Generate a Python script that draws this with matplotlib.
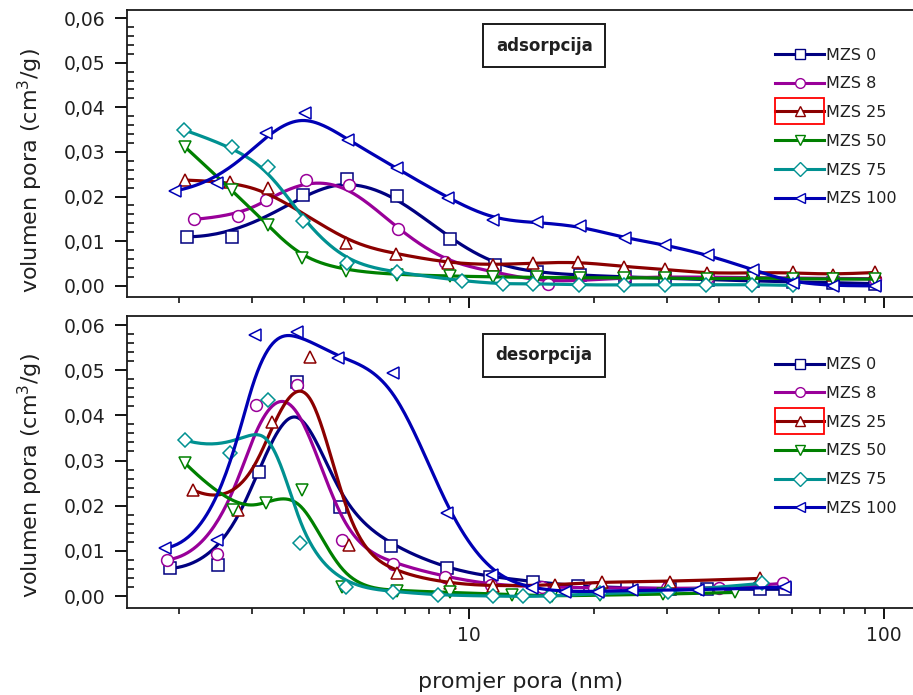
import numpy as np
import matplotlib
matplotlib.use("Agg")
import matplotlib.pyplot as plt
from matplotlib.lines import Line2D
from matplotlib.patches import Rectangle
from matplotlib.ticker import FixedLocator, FuncFormatter, NullFormatter

plt.rcParams['font.family'] = ['DejaVu Sans']

# nazivi uzoraka, boje i markeri
labels = ['MZS 0', 'MZS 8', 'MZS 25', 'MZS 50', 'MZS 75', 'MZS 100']
colors = ['#000080', '#990099', '#8b0000', '#008000', '#009191', '#0000b4']
markers = ['s', 'o', '^', 'v', 'D', '<']

# adsorpcija: promjer pora (nm) i volumen pora (cm3/g)
ads_d_0 = [2.09, 2.69, 3.98, 5.07, 6.70, 9.00, 11.55, 14.6, 18.5, 23.8, 29.7, 37.7, 48.4, 60.4, 75.5, 95.1]
ads_v_0 = [0.0110, 0.0110, 0.0204, 0.0239, 0.0201, 0.0105, 0.0047, 0.0030, 0.0024, 0.0020, 0.0017, 0.0014, 0.0011, 0.0009, 0.0007, 0.0005]
ads_d_8 = [2.17, 2.77, 3.25, 4.04, 5.14, 6.73, 8.75, 11.4, 15.5, 23.8, 37.7, 60.4, 95.1]
ads_v_8 = [0.0149, 0.0157, 0.0192, 0.0237, 0.0226, 0.0127, 0.0054, 0.0032, 0.0005, 0.0020, 0.0020, 0.0017, 0.0016]
ads_d_25 = [2.07, 2.66, 3.27, 5.05, 6.66, 8.92, 11.44, 14.29, 18.34, 23.63, 29.67, 37.39, 48.0, 60.44, 75.47, 95.13]
ads_v_25 = [0.0237, 0.0233, 0.0219, 0.0096, 0.0072, 0.0051, 0.0047, 0.0051, 0.0054, 0.0043, 0.0037, 0.0028, 0.0029, 0.0030, 0.0025, 0.0030]
ads_d_50 = [2.07, 2.68, 3.27, 3.95, 5.05, 6.70, 9.00, 11.44, 14.56, 18.5, 23.7, 29.7, 37.4, 48.4, 60.4, 75.5, 95.1]
ads_v_50 = [0.0311, 0.0215, 0.0136, 0.0062, 0.0034, 0.0025, 0.0022, 0.0020, 0.0019, 0.0018, 0.0018, 0.0018, 0.0015, 0.0018, 0.0016, 0.0015, 0.0015]
ads_d_75 = [2.06, 2.68, 3.27, 3.98, 5.07, 6.70, 9.60, 12.08, 14.29, 18.41, 23.63, 29.67, 37.24, 47.99, 60.44]
ads_v_75 = [0.0349, 0.0312, 0.0267, 0.0146, 0.0051, 0.0030, 0.0011, 0.0004, 0.0005, 0.0002, 0.0002, 0.0003, 0.0002, 0.0003, 0.0001]
ads_d_100 = [1.96, 2.47, 3.25, 4.03, 5.12, 6.70, 8.92, 11.44, 14.56, 18.51, 23.76, 29.67, 37.72, 48.42, 60.44, 75.47, 95.13]
ads_v_100 = [0.0213, 0.0230, 0.0342, 0.0388, 0.0327, 0.0263, 0.0196, 0.0148, 0.0142, 0.0134, 0.0107, 0.0092, 0.0069, 0.0036, 0.0006, 0.0000, 0.0000]

# desorpcija
des_d_0 = [1.90, 2.48, 3.11, 3.85, 4.89, 6.49, 8.84, 11.23, 14.29, 18.3, 24.0, 30.5, 37.4, 50.2, 57.7]
des_v_0 = [0.0061, 0.0069, 0.0275, 0.0474, 0.0198, 0.0111, 0.0061, 0.0043, 0.0032, 0.0022, 0.0018, 0.0016, 0.0015, 0.0015, 0.0015]
des_d_8 = [1.87, 2.47, 3.07, 3.86, 4.94, 6.55, 8.75, 11.3, 15.0, 20.0, 30.0, 40.0, 57.2]
des_v_8 = [0.0080, 0.0094, 0.0423, 0.0467, 0.0124, 0.0072, 0.0043, 0.0025, 0.0020, 0.0018, 0.0017, 0.0017, 0.0028]
des_d_25 = [2.16, 2.78, 3.35, 4.14, 5.15, 6.70, 9.00, 11.4, 16.1, 20.9, 30.5, 50.2]
des_v_25 = [0.0235, 0.0190, 0.0386, 0.0529, 0.0113, 0.0050, 0.0028, 0.0022, 0.0024, 0.0032, 0.0032, 0.0039]
des_d_50 = [2.07, 2.70, 3.25, 3.95, 4.94, 6.70, 9.00, 12.67, 15.82, 20.69, 29.39, 43.75]
des_v_50 = [0.0294, 0.0190, 0.0205, 0.0235, 0.0021, 0.0012, 0.0008, 0.0003, 0.0000, 0.0002, 0.0004, 0.0008]
des_d_75 = [2.07, 2.66, 3.28, 3.92, 5.05, 6.57, 8.43, 11.44, 13.51, 15.67, 20.69, 30.21, 50.72]
des_v_75 = [0.0345, 0.0316, 0.0434, 0.0117, 0.0021, 0.0010, 0.0002, 0.0000, -0.0001, 0.0000, 0.0006, 0.0009, 0.0028]
des_d_100 = [1.85, 2.47, 3.05, 3.85, 4.84, 6.57, 8.84, 11.34, 14.16, 17.03, 20.49, 24.66, 35.68, 57.73]
des_v_100 = [0.0106, 0.0124, 0.0577, 0.0585, 0.0526, 0.0493, 0.0183, 0.0046, 0.0017, 0.0010, 0.0010, 0.0013, 0.0013, 0.0020]

ads = [(ads_d_0, ads_v_0), (ads_d_8, ads_v_8), (ads_d_25, ads_v_25),
       (ads_d_50, ads_v_50), (ads_d_75, ads_v_75), (ads_d_100, ads_v_100)]
des = [(des_d_0, des_v_0), (des_d_8, des_v_8), (des_d_25, des_v_25),
       (des_d_50, des_v_50), (des_d_75, des_v_75), (des_d_100, des_v_100)]


def bspline(d, v, k=3, n=400):
    # glatka B-spline krivulja kroz tocke (u log skali po x)
    px = np.log10(np.asarray(d, float))
    py = np.asarray(v, float)
    m = len(px)
    k = min(k, m - 1)
    knots = np.concatenate([np.zeros(k), np.linspace(0, 1, m - k + 1), np.ones(k)])
    t = np.linspace(0, 1 - 1e-9, n)
    N = np.array([(knots[i] <= t) & (t < knots[i + 1]) for i in range(len(knots) - 1)], float).T
    for p in range(1, k + 1):
        new = np.zeros((n, len(knots) - 1 - p))
        for i in range(len(knots) - 1 - p):
            a = knots[i + p] - knots[i]
            b = knots[i + p + 1] - knots[i + 1]
            if a > 0:
                new[:, i] += (t - knots[i]) / a * N[:, i]
            if b > 0:
                new[:, i] += (knots[i + p + 1] - t) / b * N[:, i + 1]
        N = new
    return 10 ** (N @ px), N @ py


txt_color = '#202020'
W, H = 913, 695
fig = plt.figure(figsize=(W / 100, H / 100), dpi=100)
ax1 = fig.add_axes([126.5 / W, 1 - 297 / H, 1 - 126.5 / W, 287 / H])
ax2 = fig.add_axes([126.5 / W, 1 - 608 / H, 1 - 126.5 / W, 292 / H])

comma = FuncFormatter(lambda v, pos: f"{v:.2f}".replace('.', ','))
plain = FuncFormatter(lambda v, pos: f"{v:g}")

for ax, data, ylim, name, ytxt in [(ax1, ads, (-0.0025, 0.0618), 'adsorpcija', 0.876),
                                   (ax2, des, (-0.00265, 0.062), 'desorpcija', 0.866)]:
    for (d, v), c, mk, lab in zip(data, colors, markers, labels):
        xs, ys = bspline(d, v)
        ax.plot(xs, ys, color=c, lw=2.3, solid_capstyle='round')
        ms = 7.5 if mk == 'D' else 8.5
        ax.plot(d, v, ls='none', marker=mk, ms=ms, mfc='white', mec=c, mew=1.1)

    ax.set_xscale('log')
    ax.set_xlim(1.495, 117.5)
    ax.set_ylim(*ylim)
    ax.spines['right'].set_visible(False)
    for s in ['left', 'bottom', 'top']:
        ax.spines[s].set_linewidth(1.3)
        ax.spines[s].set_color('#1a1a1a')

    ax.xaxis.set_major_locator(FixedLocator([10, 100]))
    ax.xaxis.set_minor_locator(FixedLocator([2, 3, 4, 5, 6, 7, 8, 9, 20, 30, 40, 50, 60, 70, 80, 90]))
    ax.xaxis.set_major_formatter(plain)
    ax.xaxis.set_minor_formatter(NullFormatter())
    ax.yaxis.set_major_locator(FixedLocator([0, 0.01, 0.02, 0.03, 0.04, 0.05, 0.06]))
    ax.yaxis.set_minor_locator(FixedLocator(np.arange(0.002, 0.06, 0.002)))
    ax.yaxis.set_major_formatter(comma)
    ax.tick_params(axis='x', which='major', direction='out', length=8, width=1.3, top=False,
                   labelsize=13.5, labelcolor=txt_color, pad=5)
    ax.tick_params(axis='x', which='minor', direction='out', length=4, width=1.1, top=False)
    ax.tick_params(axis='y', which='major', direction='out', length=9, width=1.3, right=False,
                   labelsize=13.5, labelcolor=txt_color, pad=6)
    ax.tick_params(axis='y', which='minor', direction='in', length=5, width=1.1, right=False)

    ax.text(0.531, ytxt, name, transform=ax.transAxes, ha='center', va='center',
            fontsize=12, fontweight='bold', color=txt_color,
            bbox=dict(boxstyle='square,pad=0.75', fc='white', ec='#1a1a1a', lw=1.4))

    handles = [Line2D([], [], color=c, lw=2.2, marker=mk, ms=7, mfc='white', mec=c, mew=1.0)
               for c, mk in zip(colors, markers)]
    ax.legend(handles, labels, loc='upper left', bbox_to_anchor=(0.8245, ytxt - 0.007),
              frameon=False, fontsize=11.5, handlelength=3.1, handletextpad=0.1,
              labelspacing=0.86, borderpad=0, borderaxespad=0, labelcolor=txt_color)

ax1.xaxis.set_major_formatter(NullFormatter())

fig.text(30 / W, 1 - 171 / H, 'volumen pora (cm$^3$/g)', rotation=90, ha='center', va='center',
         fontsize=16, color=txt_color)
fig.text(30 / W, 1 - 476 / H, 'volumen pora (cm$^3$/g)', rotation=90, ha='center', va='center',
         fontsize=16, color=txt_color)
fig.text(521 / W, 1 - 682 / H, 'promjer pora (nm)', ha='center', va='center',
         fontsize=16, color=txt_color)

# crveni okvir oko oznake MZS 25 u legendama
fig.canvas.draw()
r = fig.canvas.get_renderer()
inv = fig.transFigure.inverted()
for ax in (ax1, ax2):
    bb = ax.get_legend().get_lines()[2].get_window_extent(r)
    cy = (bb.y0 + bb.y1) / 2
    (x0, y0), (x1, y1) = inv.transform([(bb.x0 + 5, cy - 13), (bb.x1 - 5, cy + 13)])
    fig.add_artist(Rectangle((x0, y0), x1 - x0, y1 - y0, transform=fig.transFigure,
                             fill=False, ec='red', lw=1.3))

fig.savefig('out.png', dpi=100)
